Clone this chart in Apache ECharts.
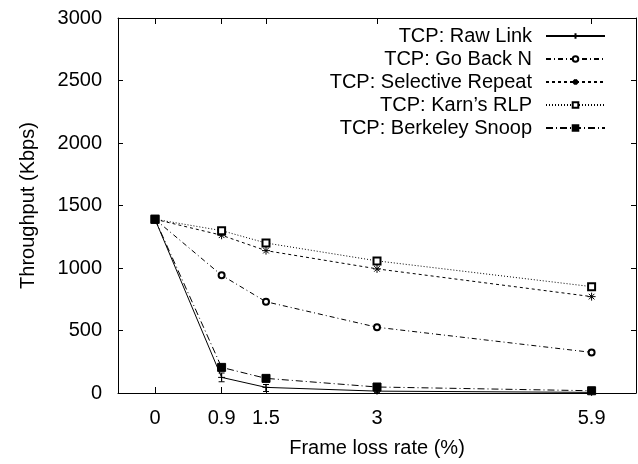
<!DOCTYPE html>
<html>
<head>
<meta charset="utf-8">
<script src="https://cdn.jsdelivr.net/npm/echarts@6/dist/echarts.min.js"></script>
<style>
  html, body { margin: 0; padding: 0; background: #fff; }
  #chart { width: 638px; height: 464px; }
</style>
</head>
<body>
<div id="chart"></div>
<script>
// frame loss rate (%) on x, throughput (Kbps) on y
const lossRate = [0, 0.9, 1.5, 3, 5.9];
const xTicks = [0, 0.9, 1.5, 3, 5.9];

const rawLink = [1390, 125, 45, 15, 5];
const rawLinkLow = [1390, 90, 12, 5, 0];
const rawLinkHigh = [1390, 160, 68, 25, 10];
const goBackN = [1390, 942, 730, 526, 325];
const selectiveRepeat = [1390, 1262, 1139, 993, 771];
const karnRlp = [1390, 1299, 1200, 1057, 851];
const berkeleySnoop = [1390, 205, 117, 48, 18];

const names = [
  "TCP: Raw Link",
  "TCP: Go Back N",
  "TCP: Selective Repeat",
  "TCP: Karn\u2019s RLP",
  "TCP: Berkeley Snoop"
];

const FONT = "Liberation Sans";
const FS = 20;

function pairs(ys) {
  return lossRate.map(function (x, i) { return [x, ys[i]]; });
}

function lineSeries(name, ys, dash, symbol, size) {
  return {
    name: name,
    type: "line",
    data: pairs(ys),
    symbol: symbol,
    symbolSize: size,
    showSymbol: true,
    silent: true,
    lineStyle: { color: "#000", width: 1, type: dash },
    itemStyle: { color: "#000", borderColor: "#000", borderWidth: 1 },
    z: 3
  };
}

// gnuplot style box: every side gets inward ticks
function axisCommon() {
  return {
    axisLine: { show: true, onZero: false, lineStyle: { color: "#000", width: 1 } },
    splitLine: { show: false }
  };
}

const chart = echarts.init(document.getElementById("chart"), null, { renderer: "canvas" });

const option = {
  animation: false,
  backgroundColor: "#fff",
  textStyle: { fontFamily: FONT },
  grid: { left: 118, right: 2, top: 18, bottom: 71 },
  legend: {
    data: names,
    orient: "vertical",
    right: 27,
    top: 21,
    align: "right",
    itemWidth: 59,
    itemHeight: 7,
    itemGap: 3,
    selectedMode: false,
    formatter: "{a|{name}}",
    textStyle: {
      fontFamily: FONT,
      fontSize: FS,
      color: "#000",
      rich: {
        a: { width: 205, align: "right", fontSize: FS, fontFamily: FONT, lineHeight: 22, padding: [0, 9, 0, 0] }
      }
    }
  },
  xAxis: [
    Object.assign(axisCommon(), {
      type: "value",
      min: -0.5,
      max: 6.5,
      name: "Frame loss rate (%)",
      nameLocation: "middle",
      nameGap: 45,
      nameTextStyle: { fontSize: FS, color: "#000", fontFamily: FONT },
      axisTick: { show: true, inside: true, length: 6, customValues: xTicks, lineStyle: { color: "#000" } },
      axisLabel: { customValues: xTicks, fontSize: FS, color: "#000", margin: 15, fontFamily: FONT }
    }),
    Object.assign(axisCommon(), {
      type: "value",
      position: "top",
      min: -0.5,
      max: 6.5,
      axisTick: { show: true, inside: true, length: 6, customValues: xTicks, lineStyle: { color: "#000" } },
      axisLabel: { show: false }
    })
  ],
  yAxis: [
    Object.assign(axisCommon(), {
      type: "value",
      min: 0,
      max: 3000,
      interval: 500,
      name: "Throughput (Kbps)",
      nameLocation: "middle",
      nameRotate: 90,
      nameGap: 80,
      nameTextStyle: { fontSize: FS, color: "#000", fontFamily: FONT },
      axisTick: { show: true, inside: true, length: 5, lineStyle: { color: "#000" } },
      axisLabel: {
        fontSize: FS, color: "#000", margin: 16, fontFamily: FONT,
        formatter: function (v) { return String(v); }
      }
    }),
    Object.assign(axisCommon(), {
      type: "value",
      position: "right",
      min: 0,
      max: 3000,
      interval: 500,
      axisTick: { show: true, inside: true, length: 5, lineStyle: { color: "#000" } },
      axisLabel: { show: false }
    })
  ],
  series: [
    lineSeries(names[0], rawLink, "solid", "path://M0,5H10M5,0V10", 7),
    lineSeries(names[1], goBackN, [5, 3, 1, 3], "emptyCircle", 6),
    lineSeries(names[2], selectiveRepeat, [3, 3], "path://M5,0V10M0,5H10M1.5,1.5L8.5,8.5M8.5,1.5L1.5,8.5", 8),
    lineSeries(names[3], karnRlp, [1, 2], "emptyRect", 7),
    lineSeries(names[4], berkeleySnoop, [7, 3, 1, 3], "rect", 8),
    {
      name: "rawLinkErr",
      type: "custom",
      silent: true,
      data: lossRate.map(function (x, i) { return [x, rawLinkLow[i], rawLinkHigh[i]]; }),
      renderItem: function (params, api) {
        const lo = api.coord([api.value(0), api.value(1)]);
        const hi = api.coord([api.value(0), api.value(2)]);
        const w = 3;
        const st = { stroke: "#000", lineWidth: 1 };
        return {
          type: "group",
          children: [
            { type: "line", shape: { x1: lo[0], y1: lo[1], x2: hi[0], y2: hi[1] }, style: st },
            { type: "line", shape: { x1: lo[0] - w, y1: lo[1], x2: lo[0] + w, y2: lo[1] }, style: st },
            { type: "line", shape: { x1: hi[0] - w, y1: hi[1], x2: hi[0] + w, y2: hi[1] }, style: st }
          ]
        };
      },
      z: 4
    }
  ]
};

chart.setOption(option);
</script>
</body>
</html>
